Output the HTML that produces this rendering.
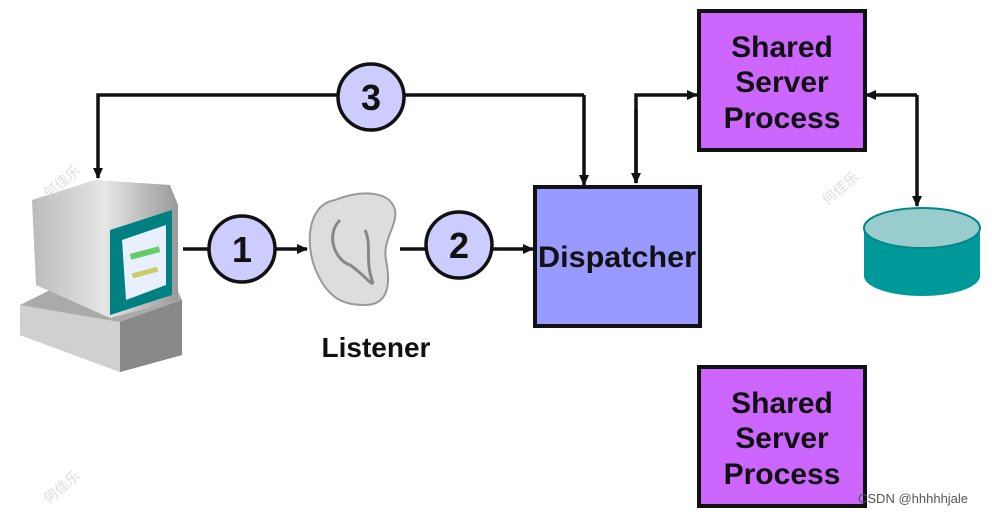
<!DOCTYPE html>
<html><head><style>
body{margin:0;width:992px;height:517px;background:#fff;overflow:hidden;font-family:"Liberation Sans",Arial,sans-serif}
</style></head><body>
<svg width="992" height="517" xmlns="http://www.w3.org/2000/svg" font-family="Liberation Sans, Arial, sans-serif">
<defs>
<marker id="a" markerWidth="11" markerHeight="10" refX="10" refY="5" orient="auto" markerUnits="userSpaceOnUse"><path d="M0,0 L11,5 L0,10z" fill="#111"/></marker>
<linearGradient id="g" x1="0" x2="1"><stop offset="0" stop-color="#bbb"/><stop offset=".5" stop-color="#e6e6e6"/><stop offset="1" stop-color="#999"/></linearGradient>
</defs>
<g stroke="#111" stroke-width="3.5" fill="none">
<path d="M584,95 L98,95 L98,178" marker-end="url(#a)"/>
<path d="M584,95 L584,185" marker-end="url(#a)"/>
<path d="M636,183 L636,95 L697,95" marker-end="url(#a)"/>
<path d="M636,110 L636,183" marker-end="url(#a)"/>
<path d="M917,95 L866,95" marker-end="url(#a)"/>
<path d="M917,95 L917,206" marker-end="url(#a)"/>
<path d="M183,249 L307,249" marker-end="url(#a)"/>
<path d="M400,249 L533,249" marker-end="url(#a)"/>
</g>
<g fill="#ccccff" stroke="#111" stroke-width="3.5">
<circle cx="371" cy="97" r="33"/><circle cx="242" cy="249" r="33"/><circle cx="459" cy="245" r="33"/>
</g>
<g font-weight="bold" font-size="36" text-anchor="middle" fill="#111">
<text x="371" y="110">3</text><text x="242" y="262">1</text><text x="459" y="258">2</text>
</g>
<rect x="699" y="11" width="166" height="139" fill="#cc66ff" stroke="#111" stroke-width="4"/>
<rect x="699" y="367" width="166" height="139" fill="#cc66ff" stroke="#111" stroke-width="4"/>
<rect x="535" y="187" width="165" height="139" fill="#9999ff" stroke="#111" stroke-width="4"/>
<g font-weight="bold" font-size="30" text-anchor="middle" fill="#111">
<text x="782" y="57">Shared</text><text x="782" y="92">Server</text><text x="782" y="128">Process</text>
<text x="782" y="413">Shared</text><text x="782" y="448">Server</text><text x="782" y="484">Process</text>
<text x="617" y="267" font-size="30" textLength="158" lengthAdjust="spacingAndGlyphs">Dispatcher</text>
<text x="376" y="357" font-size="28">Listener</text>
</g>
<path d="M864,228 L864,276 A58,20 0 0 0 980,276 L980,228z" fill="#009999"/>
<ellipse cx="922" cy="228" rx="58" ry="20" fill="#99cccc" stroke="#008888" stroke-width="2"/>
<!-- computer -->
<path d="M20,305 L60,285 L175,285 L182,300 L182,355 L120,372 L20,335z" fill="#aaa"/>
<path d="M20,305 L120,322 L120,372 L20,335z" fill="#d0d0d0"/>
<path d="M120,322 L182,300 L182,355 L120,372z" fill="#888"/>
<path d="M32,200 L95,180 L170,185 L178,205 L178,300 L110,318 L36,285z" fill="url(#g)"/>
<path d="M110,230 L172,210 L172,295 L110,315z" fill="#008080"/>
<path d="M122,240 L166,225 L166,285 L126,300z" fill="#e8f0ff"/>
<rect x="130" y="250" width="30" height="6" fill="#6c6" transform="rotate(-15 145 253)"/>
<rect x="132" y="270" width="26" height="5" fill="#cc6" transform="rotate(-15 145 272)"/>
<!-- ear -->
<path d="M335,200 C305,205 305,250 318,275 C330,300 345,305 365,305 C385,305 392,290 386,260 C382,240 398,225 395,210 C390,190 360,190 335,200z" fill="#ddd" stroke="#999" stroke-width="2"/>
<path d="M340,220 C325,235 335,260 350,265 C365,275 375,290 372,280 C365,260 372,245 365,230" fill="none" stroke="#888" stroke-width="3"/>
<g font-family="Noto Sans CJK SC, sans-serif" font-size="14" fill="#ddd">
<text x="40" y="195" transform="rotate(-40 50 185)">何佳乐</text>
<text x="818" y="200" transform="rotate(-40 830 190)">何佳乐</text>
<text x="40" y="500" transform="rotate(-40 50 490)">何佳乐</text>
</g>
<text x="858" y="503" font-size="13" fill="#555">CSDN @hhhhhjale</text>
</svg>
</body></html>
